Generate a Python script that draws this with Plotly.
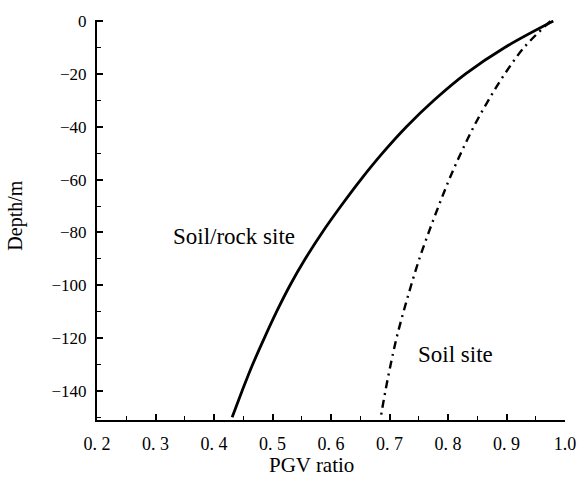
import plotly.graph_objects as go

# Data
depth = [0, -10, -20, -30, -40, -50, -60, -70, -80, -90, -100, -110, -120, -130, -140, -150]
soil_rock = [0.980, 0.897, 0.830, 0.776, 0.729, 0.688, 0.651, 0.617, 0.585, 0.556,
             0.530, 0.507, 0.486, 0.466, 0.448, 0.431]
soil = [0.975, 0.930, 0.897, 0.869, 0.844, 0.822, 0.802, 0.784, 0.767, 0.751,
        0.737, 0.724, 0.712, 0.702, 0.693, 0.685]

x_ticks = [0.2, 0.3, 0.4, 0.5, 0.6, 0.7, 0.8, 0.9, 1.0]
x_tick_labels = ["0.\u00a02", "0.\u00a03", "0.\u00a04", "0.\u00a05", "0.\u00a06",
                 "0.\u00a07", "0.\u00a08", "0.\u00a09", "1.0"]
y_ticks = [0, -20, -40, -60, -80, -100, -120, -140]
y_tick_labels = ["0", "−20", "−40", "−60", "−80", "−100", "−120", "−140"]

FONT = "Liberation Serif, Times New Roman, serif"

fig = go.Figure()
fig.add_trace(go.Scatter(x=soil_rock, y=depth, mode="lines",
                         line=dict(color="black", width=2.8, shape="spline"),
                         showlegend=False))
fig.add_trace(go.Scatter(x=soil, y=depth, mode="lines",
                         line=dict(color="black", width=2.4, shape="spline", dash="8px,5px,2px,5px"),
                         showlegend=False))

fig.add_annotation(x=0.434, y=-81.7, text="Soil/rock site", showarrow=False,
                   font=dict(family=FONT, size=23, color="black"))
fig.add_annotation(x=0.812, y=-126.3, text="Soil site", showarrow=False,
                   font=dict(family=FONT, size=23, color="black"))
fig.add_annotation(x=0.5, xref="paper", y=-0.1125, yref="paper", yanchor="middle",
                   xanchor="center", xshift=-20,
                   text="PGV ratio", showarrow=False,
                   font=dict(family=FONT, size=21, color="black"))
fig.add_annotation(x=-0.176, xref="paper", y=0.51, yref="paper",
                   xanchor="center", yanchor="middle",
                   text="Depth/m", showarrow=False, textangle=-90,
                   font=dict(family=FONT, size=20, color="black"))

fig.update_xaxes(range=[0.2, 1.0], tickvals=x_ticks, ticktext=x_tick_labels,
                 ticks="inside", ticklen=6, tickwidth=1.5, tickcolor="black",
                 minor=dict(dtick=0.05, tick0=0.2, ticks="inside", ticklen=4, tickwidth=1.2, tickcolor="black"),
                 showline=True, linecolor="black", linewidth=2, showgrid=False, zeroline=False,
                 ticklabelstandoff=6,
                 tickfont=dict(family=FONT, size=18, color="black"))
fig.update_yaxes(range=[-151, 0.4], tickvals=y_ticks, ticktext=y_tick_labels,
                 ticks="inside", ticklen=6, tickwidth=1.5, tickcolor="black",
                 minor=dict(dtick=10, tick0=0, ticks="inside", ticklen=4, tickwidth=1.2, tickcolor="black"),
                 showline=True, linecolor="black", linewidth=2, showgrid=False, zeroline=False,
                 ticklabelstandoff=5,
                 tickfont=dict(family=FONT, size=17, color="black"))

fig.update_layout(width=588, height=481, margin=dict(l=97, r=13, t=20, b=61),
                  plot_bgcolor="white", paper_bgcolor="white")

fig.write_html("out.html")
